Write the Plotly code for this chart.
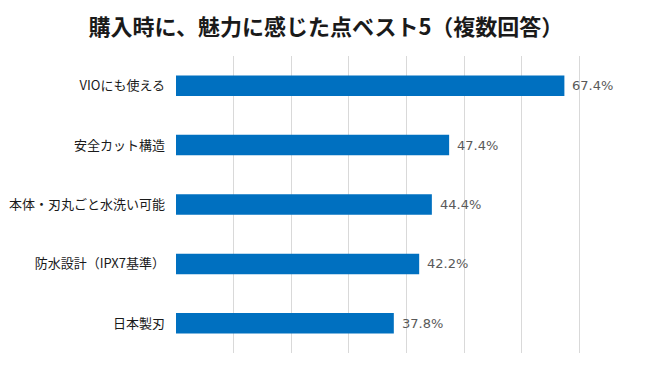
import plotly.graph_objects as go

categories = ["VIOにも使える", "安全カット構造", "本体・刃丸ごと水洗い可能", "防水設計（IPX7基準）", "日本製刃"]
values = [0.674, 0.474, 0.444, 0.422, 0.378]
value_labels = ["67.4%", "47.4%", "44.4%", "42.2%", "37.8%"]
title_text = "購入時に、魅力に感じた点ベスト5（複数回答）"

cats_r = categories[::-1]
vals_r = values[::-1]
labs_r = value_labels[::-1]

fig = go.Figure()
fig.add_trace(go.Bar(
    y=cats_r, x=vals_r, orientation="h",
    marker=dict(color="#0070C0", line=dict(width=0)),
    width=0.345, hoverinfo="skip",
))
for c, v, t in zip(cats_r, vals_r, labs_r):
    fig.add_annotation(x=v, y=c, text=t, showarrow=False, xanchor="left",
                       xshift=6, font=dict(size=13, color="#595959",
                                           family="DejaVu Sans, sans-serif"))

fig.update_layout(
    width=652, height=368,
    margin=dict(l=176, r=15, t=56, b=15, autoexpand=False),
    paper_bgcolor="white", plot_bgcolor="white",
    title=dict(text=title_text, x=0.5, xanchor="center",
               y=0.925, yanchor="middle",
               font=dict(size=22, color="#1a1a1a", family="Noto Sans CJK JP",
                         weight=700)),
    showlegend=False,
    xaxis=dict(range=[0, 0.8], dtick=0.1, showgrid=True, gridcolor="#D9D9D9",
               gridwidth=1, showticklabels=False, zeroline=False,
               showline=False, fixedrange=True, automargin=False),
    yaxis=dict(showgrid=False, zeroline=False, showline=False,
               ticks="", ticklabelstandoff=10, automargin=False,
               tickfont=dict(size=13, color="#1a1a1a", family="Noto Sans CJK JP"),
               fixedrange=True),
)

fig.write_html("out.html", config={"displayModeBar": False},
               post_script="document.body.style.margin='0';document.body.style.overflow='hidden';")
